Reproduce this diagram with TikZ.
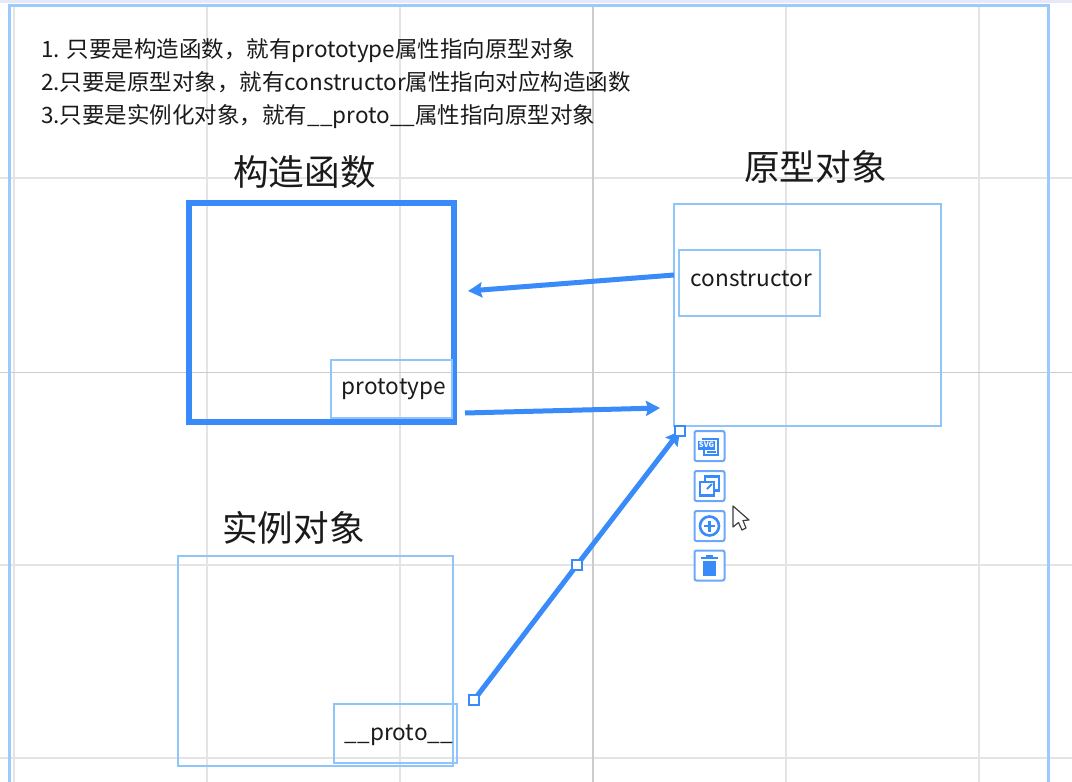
\documentclass[tikz,border=0pt]{standalone}
\usepackage{fontspec}
\setmainfont{Noto Sans CJK SC}
\definecolor{frameblue}{HTML}{9CCBFB}
\definecolor{lightbox}{HTML}{8FC5FB}
\definecolor{strongblue}{HTML}{3A8BFA}
\definecolor{gridgray}{HTML}{E4E4E4}
\definecolor{griddark}{HTML}{CCCCCC}
\definecolor{topband}{HTML}{E8E8FB}
\definecolor{txt}{HTML}{1A1A1A}
\usetikzlibrary{arrows.meta}
\newcommand{\fs}[1]{\fontsize{#1}{#1}\selectfont}
\tikzset{
 x=1pt,y=-1pt,
 gridline/.style={gridgray,line width=1.4pt},
 griddk/.style={griddark,line width=1.4pt},
 lbox/.style={draw=lightbox,line width=2.7pt,fill=none,inner sep=0pt,outer sep=0pt,anchor=north west,text=txt},
 label/.style={text=txt,font=\fs{22.6},inner sep=0pt},
 title/.style={font=\fs{35.6},text=txt,inner sep=0pt},
 note/.style={font=\fs{22.5},text=txt,inner sep=0pt,anchor=base west},
 conn/.style={draw=strongblue,line width=5pt},
 arrowed/.style={conn,-{Stealth[length=14pt,width=15pt,inset=2pt]}},
 handle/.style={draw=strongblue,fill=white,line width=2.4pt,minimum size=10.5pt,inner sep=0pt,outer sep=0pt},
 iconbox/.style={draw=strongblue!75,fill=white,rounded corners=2pt,line width=2pt,minimum size=30pt,inner sep=0pt},
}
\begin{document}
\begin{tikzpicture}
\useasboundingbox (0,0) rectangle (1072,782);
\fill[white] (0,0) rectangle (1072,782);
\fill[topband] (0,0) rectangle (1072,3);
% grid
\foreach \gx in {14,207,400,786,979} \draw[gridline] (\gx,4) -- (\gx,782);
\foreach \gy in {178,565,758} \draw[gridline] (0,\gy) -- (1072,\gy);
\draw[griddk] (593,4) -- (593,782);
\draw[griddk] (0,372.5) -- (1072,372.5);
% frame
\draw[frameblue,line width=3pt] (9.5,782) -- (9.5,5) -- (1048,5) -- (1048,782);
% notes
\node[note] (n1) at (41,57) {1. 只要是构造函数，就有prototype属性指向原型对象};
\node[note] (n2) at (41,90) {2.只要是原型对象，就有constructor属性指向对应构造函数};
\node[note] (n3) at (41,123) {3.只要是实例化对象，就有\_\_proto\_\_属性指向原型对象};
% titles
\node[title] (t1) at (304.5,172) {构造函数};
\node[title] (t2) at (815.5,167) {原型对象};
\node[title] (t3) at (293.5,528) {实例对象};
% main boxes
\node[lbox,draw=strongblue,line width=6pt,minimum width=265pt,minimum height=219pt] (ctor) at (188.5,203) {};
\node[lbox,minimum width=267pt,minimum height=222pt] (proto) at (674,204) {};
\node[lbox,minimum width=275pt,minimum height=210pt] (inst) at (178,556) {};
% inner boxes
\node[lbox,minimum width=121pt,minimum height=58pt] (ptype) at (331,360) {};
\node[label] (ptypet) at (394,389) {prototype};
\node[lbox,minimum width=141pt,minimum height=66pt] (cons) at (679,250) {};
\node[label] (const) at (751.5,279) {constructor};
\node[lbox,minimum width=123pt,minimum height=59pt] (dp) at (334,704) {};
\node[label] (dpt) at (399,735) {\_\_proto\_\_};
% connector endpoints
\coordinate (a1) at (674,275);
\coordinate (a2) at (468,291);
\coordinate (b1) at (465,413);
\coordinate (b2) at (660,408);
\draw[arrowed] (a1) -- (a2);
\draw[arrowed] (b1) -- (b2);
% selected connector
\coordinate (c1) at (474,700);
\coordinate (c2) at (577,565);
\coordinate (c3) at (680,431);
\draw[conn] (c1) -- (c2);
\draw[arrowed] (c2) -- (c3);
\node[handle] (h1) at (c1) {};
\node[handle] (h2) at (c2) {};
\node[handle] (h3) at (c3) {};
% toolbar
\node[iconbox] (i1) at (709.5,446) {};
\node[iconbox] (i2) at (709.5,486) {};
\node[iconbox] (i3) at (709.5,526) {};
\node[iconbox] (i4) at (709.5,565.5) {};
% icon 1: svg document
\draw[strongblue,line width=2pt] (702,438.5) -- (718,438.5) -- (718,454.5) -- (704,454.5) -- (704,450);
\fill[strongblue] (698,441) rectangle (714.5,449.5);
\node[white,font=\bfseries\fs{7.5},inner sep=0pt] (svgt) at (706.5,445.2) {SVG};
\draw[strongblue,line width=1.6pt] (707,452) -- (716,452);
% icon 2: overlap squares
\draw[strongblue,line width=2.6pt] (705,482) -- (705,476.5) -- (719,476.5) -- (719,490.5) -- (714,490.5);
\draw[strongblue,line width=2.6pt] (700,482) rectangle (714,495.5);
\draw[strongblue,line width=1.8pt] (707,489) -- (712,484);
% icon 3: plus in circle
\draw[strongblue,line width=2.6pt] (709.5,526) circle [radius=9.5pt];
\draw[strongblue,line width=2.6pt] (704,526) -- (715,526) (709.5,520.5) -- (709.5,531.5);
% icon 4: trash
\fill[strongblue] (703,561) rectangle (716,576);
\fill[strongblue] (701,556.5) rectangle (718,559);
\fill[strongblue] (706,554.5) rectangle (713,557);
% cursor
\draw[fill=white,draw=black!75,line width=1.2pt,line join=round]
 (733,506) -- (733,527) -- (738.5,522.5) -- (742,530) -- (746,528) -- (743,520.5) -- (749,520) -- cycle;
\end{tikzpicture}
\end{document}
